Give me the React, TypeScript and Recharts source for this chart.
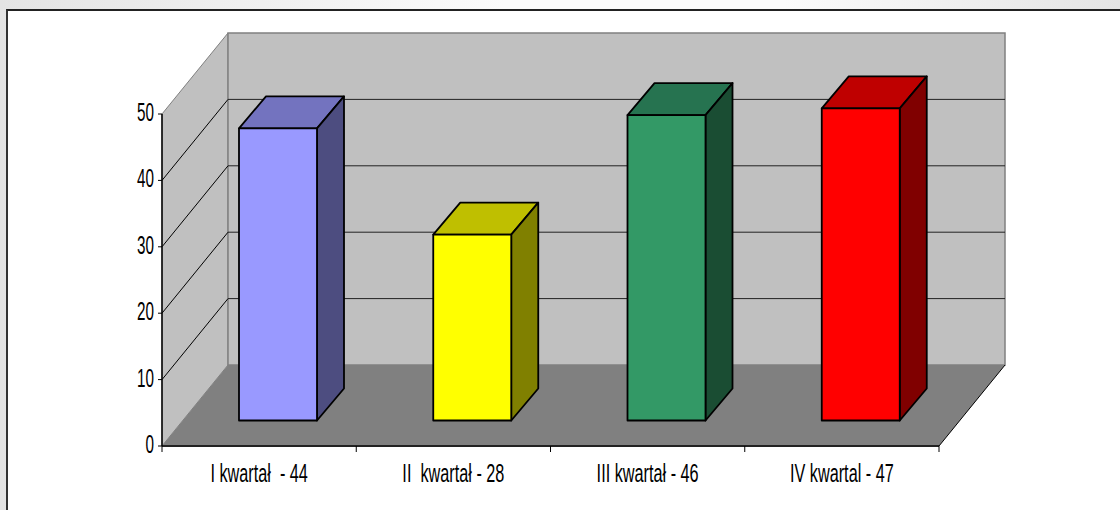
import { Bar, BarChart, CartesianGrid, Cell, ReferenceArea, XAxis, YAxis } from "recharts";

const categories = ["I kwartał  - 44", "II  kwartał - 28", "III kwartał - 46", "IV kwartal - 47"];
const values = [44, 28, 46, 47];
const yTicks = [0, 10, 20, 30, 40, 50];

const frontColors = ["#9999ff", "#ffff00", "#339966", "#ff0000"];
const topColors = ["#7373bf", "#bfbf00", "#267350", "#bf0000"];
const sideColors = ["#4d4d80", "#808000", "#1a4d33", "#800000"];

const data = categories.map((name, i) => ({ name, value: values[i] }));

// fake 3d: how far the back wall sits from the front plane, and the bar box
const WALL_DX = 66;
const WALL_DY = -81;
const BAR_DX = 19;
const BAR_DY = -25.5;
const DEPTH_DX = 27;
const DEPTH_DY = -32;
const BAND = 194.25;

const TEXT_FONT = "'Liberation Sans', Arial, sans-serif";

function Walls(props: any) {
  const { x, y, width, height } = props;
  const b = y + height;
  const r = x + width;
  const pts = (p: number[][]) => p.map((q) => q.join(",")).join(" ");
  return (
    <g>
      <polygon
        points={pts([[x, y], [x + WALL_DX, y + WALL_DY], [x + WALL_DX, b + WALL_DY], [x, b]])}
        fill="#c0c0c0"
        stroke="#808080"
      />
      <rect x={x + WALL_DX} y={y + WALL_DY} width={width} height={height} fill="#c0c0c0" stroke="#808080" strokeWidth={1.5} />
      <polygon
        points={pts([[x, b], [x + WALL_DX, b + WALL_DY], [r + WALL_DX, b + WALL_DY], [r, b]])}
        fill="#808080"
      />
      <line x1={r} y1={b} x2={r + WALL_DX} y2={b + WALL_DY} stroke="#000" />
    </g>
  );
}

function GridLine(props: any) {
  const { x1, x2, y1, index } = props;
  // the 0 and 50 edges belong to the walls
  const isEdge = y1 <= 115 || y1 >= 445;
  if (isEdge) return <g key={index} />;
  return (
    <g key={index}>
      <line x1={x1} y1={y1} x2={x1 + WALL_DX} y2={y1 + WALL_DY} stroke="#000" strokeWidth={1} />
      <line x1={x1 + WALL_DX} y1={y1 + WALL_DY} x2={x2 + WALL_DX} y2={y1 + WALL_DY} stroke="#222" strokeWidth={1} />
    </g>
  );
}

function Box3D(props: any) {
  const { x, y, width, height, index } = props;
  const l = x + BAR_DX;
  const r = l + width;
  const t = y + BAR_DY;
  const b = t + height;
  const common = { stroke: "#000", strokeWidth: 1.8, strokeLinejoin: "round" as const };
  return (
    <g>
      <polygon
        points={`${l},${t} ${l + DEPTH_DX},${t + DEPTH_DY} ${r + DEPTH_DX},${t + DEPTH_DY} ${r},${t}`}
        fill={topColors[index]}
        {...common}
      />
      <polygon
        points={`${r},${t} ${r + DEPTH_DX},${t + DEPTH_DY} ${r + DEPTH_DX},${b + DEPTH_DY} ${r},${b}`}
        fill={sideColors[index]}
        {...common}
      />
      <rect x={l} y={t} width={width} height={height} fill={frontColors[index]} {...common} />
    </g>
  );
}

function CategoryTick(props: any) {
  const { x, y, payload, index } = props;
  const left = x - BAND / 2;
  return (
    <g>
      <line x1={left} y1={y - 8} x2={left} y2={y - 2} stroke="#000" />
      {index === categories.length - 1 && (
        <line x1={left + BAND} y1={y - 8} x2={left + BAND} y2={y - 2} stroke="#000" />
      )}
      <text
        transform={`translate(${x},${y + 28}) scale(0.65,1)`}
        textAnchor="middle"
        fontFamily={TEXT_FONT}
        fontSize={25}
        fill="#000"
        style={{ whiteSpace: "pre" }}
      >
        {payload.value}
      </text>
    </g>
  );
}

function ValueTick(props: any) {
  const { x, y, payload } = props;
  return (
    <text
      transform={`translate(${x},${y + 7}) scale(0.61,1)`}
      textAnchor="end"
      fontFamily={TEXT_FONT}
      fontSize={25}
      fill="#000"
    >
      {payload.value}
    </text>
  );
}

export default function App() {
  return (
    <div
      style={{
        position: "absolute",
        left: 0,
        top: 0,
        width: 1120,
        height: 510,
        overflow: "hidden",
        background: "linear-gradient(90deg, #e4e4e4 0%, #fbfbfb 45%, #fbfbfb 70%, #e4e4e4 100%)",
      }}
    >
      <div
        style={{
          position: "absolute",
          left: 6,
          top: 9,
          width: 1114,
          height: 501,
          boxSizing: "border-box",
          background: "#fff",
          borderLeft: "2px solid #333",
          borderTop: "2px solid #222",
        }}
      />
      <div style={{ position: "absolute", left: 0, top: 0 }}>
        <BarChart width={1120} height={510} data={data} margin={{ top: 114, right: 181, bottom: 0, left: 0 }} barSize={78}>
          <ReferenceArea y1={0} y2={50} shape={<Walls />} ifOverflow="visible" zIndex={-200} />
          <CartesianGrid vertical={false} horizontal={(p: any) => <GridLine {...p} />} />
          <XAxis
            dataKey="name"
            height={64}
            interval={0}
            tickLine={false}
            tick={<CategoryTick />}
            axisLine={{ stroke: "#222", strokeWidth: 2 }}
          />
          <YAxis
            width={162}
            domain={[0, 50]}
            ticks={yTicks}
            tickSize={4}
            tickMargin={4}
            tick={<ValueTick />}
            tickLine={{ stroke: "#000" }}
            axisLine={{ stroke: "#000", strokeWidth: 1.5 }}
          />
          <Bar dataKey="value" isAnimationActive={false} shape={<Box3D />}>
            {values.map((_, i) => (
              <Cell key={i} fill={frontColors[i]} />
            ))}
          </Bar>
        </BarChart>
      </div>
    </div>
  );
}
